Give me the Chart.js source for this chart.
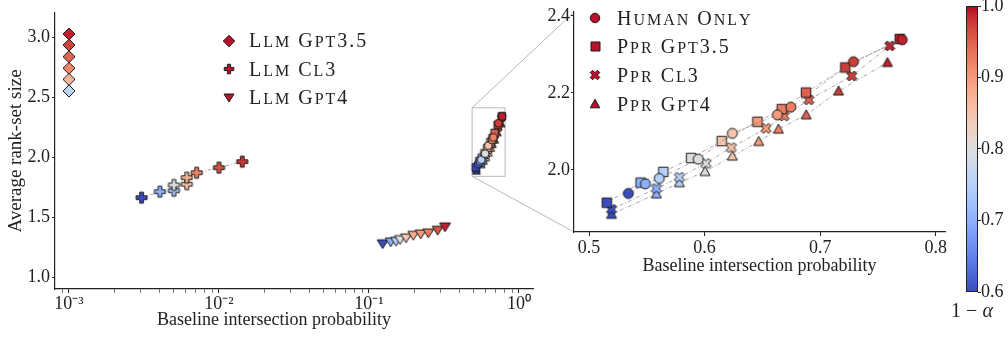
<!DOCTYPE html>
<html>
<head>
<meta charset="utf-8">
<script src="https://cdn.jsdelivr.net/npm/chart.js@4.4.1/dist/chart.umd.min.js"></script>
<style>
  html, body { margin: 0; padding: 0; background: #fff; }
  #wrap { position: relative; width: 1008px; height: 337px; }
  #wrap canvas { position: absolute; left: 0; top: 0; }
</style>
</head>
<body>
<div id="wrap">
  <canvas id="mainChart" width="1008" height="337"></canvas>
  <canvas id="zoomChart" width="1008" height="337"></canvas>
  <canvas id="cbarChart" width="1008" height="337"></canvas>
</div>
<script>
// ---- data ----------------------------------------------------------------
// LLM baselines (main panel only)
const llmGpt35X = [0.001, 0.001, 0.001, 0.001, 0.001, 0.001];
const llmGpt35Y = [3.025, 2.933, 2.836, 2.74, 2.647, 2.55];
const llmGpt35Level = [0.99, 0.97, 0.945, 0.92, 0.87, 0.76];

const llmCl3X = [0.00305, 0.00404, 0.00501, 0.00501, 0.0061, 0.0061, 0.0071, 0.01, 0.0143];
const llmCl3Y = [1.661, 1.711, 1.719, 1.767, 1.773, 1.828, 1.869, 1.911, 1.961];
const llmCl3Level = [0.6, 0.7, 0.73, 0.8, 0.85, 0.88, 0.92, 0.96, 0.98];

const llmGpt4X = [0.1233, 0.1396, 0.1514, 0.161, 0.1766, 0.1974, 0.2212, 0.2484, 0.2869, 0.3213];
const llmGpt4Y = [1.273, 1.289, 1.294, 1.308, 1.322, 1.344, 1.355, 1.364, 1.386, 1.414];
const llmGpt4Level = [0.6, 0.7, 0.75, 0.8, 0.85, 0.88, 0.9, 0.925, 0.96, 0.99];

// human-only and PPR runs (both panels)
const humanX = [0.534, 0.5488, 0.5608, 0.5945, 0.624, 0.663, 0.6746, 0.7288, 0.771];
const humanY = [1.939, 1.964, 1.978, 2.028, 2.095, 2.143, 2.163, 2.281, 2.338];
const humanLevel = [0.6, 0.7, 0.75, 0.8, 0.85, 0.9, 0.925, 0.975, 0.99];

const pprGpt35X = [0.5154, 0.5446, 0.5643, 0.5883, 0.6148, 0.6457, 0.6668, 0.6877, 0.7217, 0.7688];
const pprGpt35Y = [1.915, 1.967, 1.995, 2.031, 2.075, 2.125, 2.158, 2.201, 2.266, 2.340];
const pprGpt35Level = [0.6, 0.7, 0.75, 0.8, 0.85, 0.9, 0.925, 0.95, 0.975, 0.99];

const pprCl3X = [0.5195, 0.5583, 0.5782, 0.6011, 0.6231, 0.6531, 0.6688, 0.6902, 0.7273, 0.7602];
const pprCl3Y = [1.898, 1.952, 1.981, 2.017, 2.058, 2.108, 2.140, 2.182, 2.244, 2.322];
const pprCl3Level = [0.6, 0.7, 0.75, 0.8, 0.85, 0.9, 0.925, 0.95, 0.975, 0.99];

const pprGpt4X = [0.5195, 0.5583, 0.5782, 0.6003, 0.624, 0.6468, 0.6639, 0.6879, 0.7159, 0.7582];
const pprGpt4Y = [1.885, 1.938, 1.967, 1.996, 2.036, 2.074, 2.106, 2.143, 2.205, 2.279];
const pprGpt4Level = [0.6, 0.7, 0.75, 0.8, 0.85, 0.9, 0.925, 0.95, 0.975, 0.99];

// axes
const mainXMin = 8.07e-4, mainXMax = 1.24;
const mainYMin = 0.9, mainYMax = 3.2;
const mainXTicks = [0.001, 0.01, 0.1, 1];
const mainXLabels = ['10⁻³', '10⁻²', '10⁻¹', '10⁰'];
const mainYTicks = [1.0, 1.5, 2.0, 2.5, 3.0];

const zoomXMin = 0.487, zoomXMax = 0.808;
const zoomYMin = 1.839, zoomYMax = 2.41;
const zoomXTicks = [0.5, 0.6, 0.7, 0.8];
const zoomYTicks = [2.0, 2.2, 2.4];

const cbarMin = 0.6, cbarMax = 1.0;
const cbarTicks = [0.6, 0.7, 0.8, 0.9, 1.0];

// ---- colours ---------------------------------------------------------------
const coolwarmStops = [
  [59,76,192],[68,90,204],[77,104,215],[87,117,225],[98,130,234],[108,142,241],
  [119,154,247],[130,165,251],[141,176,254],[152,185,255],[163,194,255],[174,201,253],
  [184,208,249],[194,213,244],[204,217,238],[213,219,230],[221,221,221],[229,216,209],
  [236,211,197],[241,204,185],[245,196,173],[247,187,160],[247,177,148],[247,166,135],
  [244,154,123],[241,141,111],[236,127,99],[229,112,88],[222,96,77],[213,80,66],
  [203,62,56],[192,40,47],[180,4,38]
];

function coolwarm(t) {
  t = Math.max(0, Math.min(1, t));
  const n = coolwarmStops.length - 1;
  const p = t * n;
  const i = Math.min(Math.floor(p), n - 1);
  const f = p - i;
  const a = coolwarmStops[i], b = coolwarmStops[i + 1];
  const c = a.map((v, k) => Math.round(v + (b[k] - v) * f));
  return `rgb(${c[0]},${c[1]},${c[2]})`;
}
const levelColor = lvl => coolwarm((lvl - cbarMin) / (cbarMax - cbarMin));
const legendColor = levelColor(0.995);

// ---- markers (matplotlib-like filled shapes with dark edge) -----------------
const markerCache = {};
function marker(shape, fill, size) {
  const key = shape + '|' + fill + '|' + size;
  if (markerCache[key]) return markerCache[key];
  const dim = Math.ceil(size + 4);
  const c = document.createElement('canvas');
  c.width = dim; c.height = dim;
  const g = c.getContext('2d');
  const h = size / 2;
  g.translate(dim / 2, dim / 2);
  g.beginPath();
  let pts = null;
  if (shape === 'circle') {
    g.arc(0, 0, h, 0, Math.PI * 2);
  } else if (shape === 'square') {
    g.rect(-h, -h, size, size);
  } else if (shape === 'diamond') {
    pts = [[0, -h], [h, 0], [0, h], [-h, 0]];
  } else if (shape === 'triUp') {
    pts = [[0, -h], [h, h * 0.8], [-h, h * 0.8]];
  } else if (shape === 'triDown') {
    pts = [[0, h * 0.8], [h, -h * 0.8], [-h, -h * 0.8]];
  } else if (shape === 'plus') {
    const a = h / 3;
    pts = [[-a,-h],[a,-h],[a,-a],[h,-a],[h,a],[a,a],[a,h],[-a,h],[-a,a],[-h,a],[-h,-a],[-a,-a]];
  } else if (shape === 'x') {
    const s = h / 2;
    pts = [[-1,-2],[0,-1],[1,-2],[2,-1],[1,0],[2,1],[1,2],[0,1],[-1,2],[-2,1],[-1,0],[-2,-1]]
      .map(p => [p[0] * s, p[1] * s]);
  }
  if (pts) {
    g.moveTo(pts[0][0], pts[0][1]);
    pts.slice(1).forEach(p => g.lineTo(p[0], p[1]));
    g.closePath();
  }
  g.fillStyle = fill;
  g.fill();
  g.lineWidth = 1;
  g.strokeStyle = '#1a1a1a';
  g.stroke();
  markerCache[key] = c;
  return c;
}

function series(label, xs, ys, levels, shape, size) {
  return {
    label,
    shape,
    data: xs.map((x, i) => ({ x, y: ys[i] })),
    showLine: true,
    borderColor: 'rgba(110,110,110,0.75)',
    borderWidth: 0.8,
    borderDash: [4, 2, 1, 2],
    pointRadius: 5,
    pointStyle: ctx => marker(shape, levelColor(ctx.dataIndex === undefined ? 1 : levels[ctx.dataIndex]), size),
    clip: false
  };
}

// ---- shared styling --------------------------------------------------------
const ink = '#222';
const serif = "'Liberation Serif', 'Times New Roman', serif";
const tickFont = { family: serif, size: 18 };
const titleFont = { family: serif, size: 18 };

// small caps drawn by hand: capitals full size, lower case as smaller capitals
function drawSmallCaps(ctx, text, x, baseline, big, small, spacing) {
  let cx = x;
  for (const ch of text) {
    const lower = ch !== ch.toUpperCase();
    const glyph = lower ? ch.toUpperCase() : ch;
    ctx.font = `${lower ? small : big}px ${serif}`;
    ctx.fillText(glyph, cx, baseline);
    cx += ctx.measureText(glyph).width + spacing;
  }
}

const markerLegend = {
  id: 'markerLegend',
  afterDraw(chart, args, opts) {
    const ctx = chart.ctx;
    ctx.save();
    ctx.textBaseline = 'alphabetic';
    ctx.textAlign = 'left';
    ctx.fillStyle = ink;
    opts.items.forEach((idx, row) => {
      const ds = chart.data.datasets[idx];
      const y = opts.y + row * opts.rowGap;
      const img = marker(ds.shape, legendColor, opts.sizes[row]);
      ctx.drawImage(img, Math.round(opts.x - img.width / 2), Math.round(y - img.height / 2));
      drawSmallCaps(ctx, ds.label, opts.textX, y + 6.7, 20, 16, 2);
    });
    ctx.restore();
  }
};

// free-standing caption text (axis label placed off the axis centre, colour bar label)
const captions = {
  id: 'captions',
  afterDraw(chart, args, opts) {
    const ctx = chart.ctx;
    ctx.save();
    ctx.fillStyle = ink;
    ctx.textBaseline = 'middle';
    opts.items.forEach(item => {
      // each item is a list of [text, italic] runs centred on x
      ctx.textAlign = 'left';
      const fonts = item.runs.map(r => `${r[1] ? 'italic ' : ''}${item.size}px ${serif}`);
      const widths = item.runs.map((r, i) => { ctx.font = fonts[i]; return ctx.measureText(r[0]).width; });
      let cx = item.x - widths.reduce((a, b) => a + b, 0) / 2;
      item.runs.forEach((r, i) => {
        ctx.font = fonts[i];
        ctx.fillText(r[0], cx, item.y);
        cx += widths[i];
      });
    });
    ctx.restore();
  }
};

function fixedTicks(values) {
  return scale => { scale.ticks = values.map(v => ({ value: v, major: true })); };
}

// ---- inset panel -----------------------------------------------------------
const zoomChart = new Chart(document.getElementById('zoomChart'), {
  type: 'scatter',
  data: {
    datasets: [
      series('Human Only', humanX, humanY, humanLevel, 'circle', 10),
      series('Ppr Gpt3.5', pprGpt35X, pprGpt35Y, pprGpt35Level, 'square', 9.5),
      series('Ppr Cl3', pprCl3X, pprCl3Y, pprCl3Level, 'x', 10),
      series('Ppr Gpt4', pprGpt4X, pprGpt4Y, pprGpt4Level, 'triUp', 10)
    ]
  },
  options: {
    responsive: false,
    animation: false,
    events: [],
    layout: { padding: { left: 500, top: 12, right: 63, bottom: 57 } },
    plugins: {
      legend: { display: false },
      tooltip: { enabled: false },
      markerLegend: { x: 595, textX: 617, y: 18, rowGap: 28.7, items: [0, 1, 2, 3], sizes: [9.5, 9, 9.5, 9.5] }
    },
    scales: {
      x: {
        type: 'linear', min: zoomXMin, max: zoomXMax,
        afterBuildTicks: fixedTicks(zoomXTicks),
        afterFit(s) { s.height = 48; s.paddingLeft = 0; s.paddingRight = 0; },
        ticks: { font: tickFont, color: ink, padding: 1, maxRotation: 0, autoSkip: false, callback: v => v.toFixed(1) },
        grid: { drawOnChartArea: false, tickLength: 4, tickColor: ink },
        border: { color: ink, width: 1.2 },
        title: { display: true, text: 'Baseline intersection probability', font: titleFont, color: ink, padding: { top: 0, bottom: 3 } }
      },
      y: {
        type: 'linear', min: zoomYMin, max: zoomYMax,
        afterBuildTicks: fixedTicks(zoomYTicks),
        afterFit(s) { s.width = 74; s.paddingTop = 0; s.paddingBottom = 0; },
        ticks: { font: tickFont, color: ink, padding: 1, autoSkip: false, callback: v => v.toFixed(1) },
        grid: { drawOnChartArea: false, tickLength: 3, tickColor: ink },
        border: { color: ink, width: 1.2 }
      }
    }
  },
  plugins: [markerLegend]
});

// ---- main panel ------------------------------------------------------------
const zoomBox = {
  id: 'zoomBox',
  beforeDatasetsDraw(chart) {
    const { ctx, scales: { x, y } } = chart;
    const l = x.getPixelForValue(zoomXMin), r = x.getPixelForValue(zoomXMax);
    const t = y.getPixelForValue(zoomYMax), b = y.getPixelForValue(zoomYMin);
    const area = zoomChart.chartArea;
    ctx.save();
    ctx.strokeStyle = '#b8b8b8';
    ctx.lineWidth = 1;
    ctx.strokeRect(l, t, r - l, b - t);
    ctx.beginPath();
    ctx.moveTo(l, t); ctx.lineTo(area.left, area.top);
    ctx.moveTo(l, b); ctx.lineTo(area.left, area.bottom);
    ctx.stroke();
    ctx.restore();
  }
};

const mainChart = new Chart(document.getElementById('mainChart'), {
  type: 'scatter',
  data: {
    datasets: [
      series('Llm Gpt3.5', llmGpt35X, llmGpt35Y, llmGpt35Level, 'diamond', 12),
      series('Llm Cl3', llmCl3X, llmCl3Y, llmCl3Level, 'plus', 11),
      series('Llm Gpt4', llmGpt4X, llmGpt4Y, llmGpt4Level, 'triDown', 11),
      series('Human Only', humanX, humanY, humanLevel, 'circle', 8),
      series('Ppr Gpt3.5', pprGpt35X, pprGpt35Y, pprGpt35Level, 'square', 7.5),
      series('Ppr Cl3', pprCl3X, pprCl3Y, pprCl3Level, 'x', 8),
      series('Ppr Gpt4', pprGpt4X, pprGpt4Y, pprGpt4Level, 'triUp', 8)
    ]
  },
  options: {
    responsive: false,
    animation: false,
    events: [],
    layout: { padding: { left: 0, top: 13, right: 475, bottom: 5 } },
    plugins: {
      legend: { display: false },
      tooltip: { enabled: false },
      markerLegend: { x: 229, textX: 249, y: 40.5, rowGap: 28.5, items: [0, 1, 2], sizes: [11.5, 9.5, 10] },
      captions: { items: [{ runs: [['Baseline intersection probability', false]], x: 274, y: 320, size: 18 }] }
    },
    scales: {
      x: {
        type: 'logarithmic', min: mainXMin, max: mainXMax,
        afterBuildTicks(scale) {
          // decade labels plus unlabelled minor ticks
          const t = [];
          for (let e = -4; e <= 0; e++) {
            for (let k = 1; k <= 9; k++) {
              const v = k * Math.pow(10, e);
              if (v >= mainXMin && v <= mainXMax) t.push({ value: v, major: k === 1 });
            }
          }
          scale.ticks = t;
        },
        afterFit(s) { s.height = 43; s.paddingLeft = 0; s.paddingRight = 0; },
        ticks: {
          font: tickFont, color: ink, padding: 0, maxRotation: 0, autoSkip: false,
          callback: v => {
            const i = mainXTicks.findIndex(m => Math.abs(m - v) / m < 1e-6);
            return i < 0 ? '' : mainXLabels[i];
          }
        },
        grid: {
          drawOnChartArea: false, tickLength: 4,
          tickColor: ink,
          tickWidth: c => (c.tick && c.tick.major ? 1 : 0.6)
        },
        border: { color: ink, width: 1.2 }
      },
      y: {
        type: 'linear', min: mainYMin, max: mainYMax,
        afterBuildTicks: fixedTicks(mainYTicks),
        afterFit(s) { s.width = 55; s.paddingTop = 0; s.paddingBottom = 0; },
        ticks: { font: tickFont, color: ink, padding: 2, autoSkip: false, callback: v => v.toFixed(1) },
        grid: { drawOnChartArea: false, tickLength: 3, tickColor: ink },
        border: { color: ink, width: 1.2 },
        title: { display: true, text: 'Average rank-set size', font: { family: serif, size: 19 }, color: ink, padding: { top: 5, bottom: 0 } }
      }
    }
  },
  plugins: [zoomBox, markerLegend, captions]
});

// ---- colour bar --------------------------------------------------------------
const colorbarFill = {
  id: 'colorbarFill',
  beforeDatasetsDraw(chart) {
    const { ctx, chartArea: a } = chart;
    const grad = ctx.createLinearGradient(0, a.bottom, 0, a.top);
    coolwarmStops.forEach((c, i) => grad.addColorStop(i / (coolwarmStops.length - 1), `rgb(${c[0]},${c[1]},${c[2]})`));
    ctx.save();
    ctx.fillStyle = grad;
    ctx.fillRect(a.left, a.top, a.right - a.left, a.bottom - a.top);
    ctx.strokeStyle = ink;
    ctx.lineWidth = 1;
    ctx.strokeRect(a.left + 0.5, a.top + 0.5, a.right - a.left - 1, a.bottom - a.top - 1);
    ctx.restore();
  }
};

new Chart(document.getElementById('cbarChart'), {
  type: 'scatter',
  data: { datasets: [] },
  options: {
    responsive: false,
    animation: false,
    events: [],
    layout: { padding: { left: 966, top: 6, right: 0, bottom: 0 } },
    plugins: {
      legend: { display: false },
      tooltip: { enabled: false },
      captions: { items: [{ runs: [['1 − ', false], ['α', true]], x: 972, y: 312, size: 20 }] }
    },
    scales: {
      x: {
        min: 0, max: 1,
        afterFit(s) { s.height = 45; s.paddingLeft = 0; s.paddingRight = 0; },
        grid: { display: false },
        border: { display: false },
        ticks: { display: false }
      },
      y: {
        position: 'right', min: cbarMin, max: cbarMax,
        afterBuildTicks: fixedTicks(cbarTicks),
        afterFit(s) { s.width = 30; s.paddingTop = 0; s.paddingBottom = 0; },
        ticks: { font: tickFont, color: ink, padding: 0, autoSkip: false, callback: v => v.toFixed(1) },
        grid: { drawOnChartArea: false, tickLength: 3, tickColor: ink },
        border: { display: false }
      }
    }
  },
  plugins: [colorbarFill, captions]
});
</script>
</body>
</html>
